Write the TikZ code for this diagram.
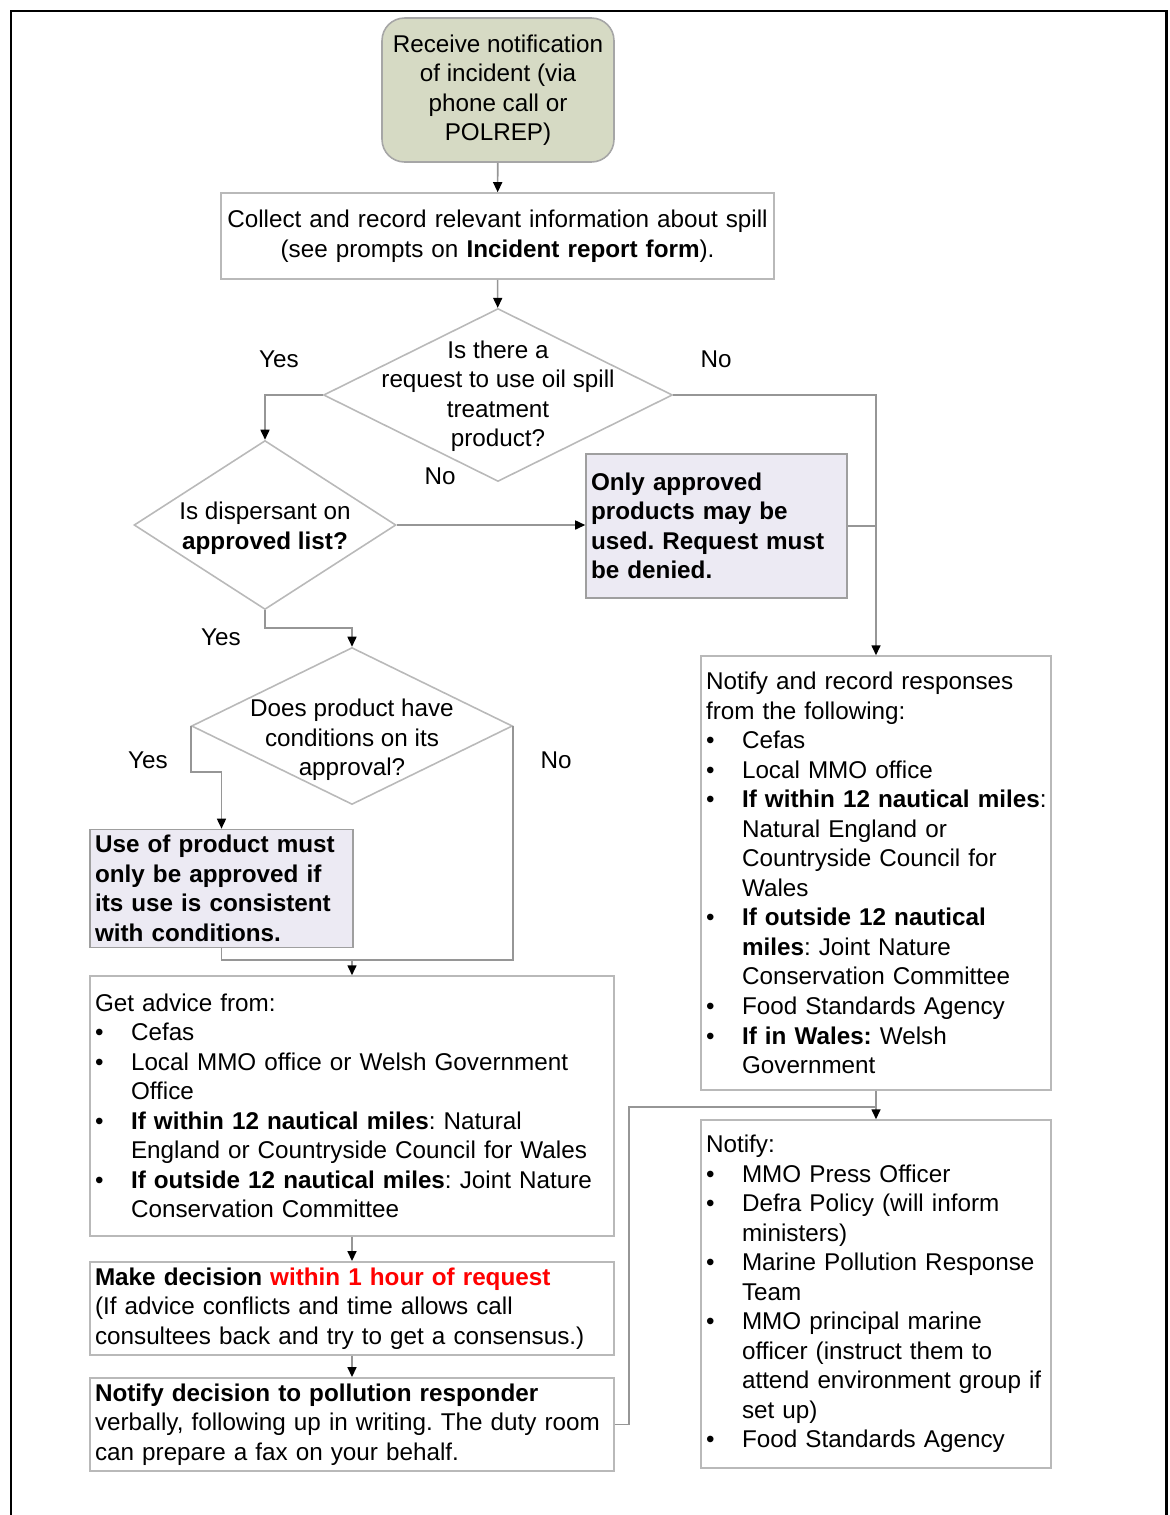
\documentclass[tikz,border=0pt]{standalone}
\usepackage{fontspec}
\setmainfont{Liberation Sans}
\usetikzlibrary{shapes.geometric,arrows.meta}

\definecolor{startfill}{RGB}{214,218,196}
\definecolor{notefill}{RGB}{236,234,243}
\definecolor{boxline}{RGB}{185,185,185}
\definecolor{flowline}{RGB}{150,150,150}

\newcommand{\bulletmark}{\makebox[0.72cm][l]{\textbullet}}
\newcommand{\bulletgap}{\hspace*{0.72cm}}
\frenchspacing

\begin{document}
\begin{tikzpicture}[
    x=0.02cm, y=-0.02cm,
    every node/.style={font=\fontsize{13.8}{16.8}\selectfont},
    startbox/.style={rectangle, rounded corners=0.45cm, draw=gray!70, line width=0.9pt, fill=startfill, minimum width=4.64cm, minimum height=2.88cm, align=center},
    infobox/.style={rectangle, draw=boxline, line width=0.9pt, inner xsep=0.1cm, align=left},
    notebox/.style={infobox, draw=gray!75, fill=notefill, font=\fontsize{13.8}{16.8}\selectfont\bfseries},
    decision/.style={diamond, draw=boxline, line width=0.9pt, inner sep=0pt},
    flow/.style={->, draw=flowline, line width=0.9pt, >={Triangle[length=0.2cm, width=0.18cm, color=black]}},
    link/.style={draw=flowline, line width=0.9pt}
]
    \useasboundingbox (0,0) rectangle (1170,1515);
    \draw[line width=1.7pt] (11,1515) -- (11,11) -- (1166,11) -- (1166,1515);

    % Left column
    \node[startbox] (notice) at (498,90) {Receive notification\\of incident (via\\phone call or\\POLREP)};
    \node[infobox, text width=10.86cm, minimum height=1.72cm, align=center] (collect) at (497.5,236)
        {\mbox{Collect and record relevant information about spill}\\(see prompts on \textbf{Incident report form}).};

    \node[decision, minimum width=6.98cm, minimum height=3.46cm] (request) at (498,395) {};
    \node[align=center] (requesttext) at (498,396) {Is there a\\request to use oil spill\\treatment\\product?};

    \node[decision, minimum width=5.24cm, minimum height=3.38cm] (dispersant) at (265,525) {};
    \node[align=center] (dispersanttext) at (265,528) {Is dispersant on\\\textbf{approved list?}};

    \node[notebox, text width=5.02cm, minimum height=2.88cm] (denied) at (716.5,526)
        {Only approved\\products may be\\used. Request must\\be denied.};

    \node[decision, minimum width=6.42cm, minimum height=3.14cm] (conditions) at (352,726) {};
    \node[align=center] (conditionstext) at (352,740) {Does product have\\conditions on its\\approval?};

    \node[notebox, text width=5.06cm, minimum height=2.3cm] (consistent) at (221.5,888.5)
        {Use of product must\\only be approved if\\its use is consistent\\with conditions.};

    \node[infobox, text width=10.28cm, minimum height=5.2cm] (advice) at (352,1106)
        {Get advice from:\\
        \bulletmark Cefas\\
        \bulletmark Local MMO office or Welsh Government\\
        \bulletgap Office\\
        \bulletmark \textbf{If within 12 nautical miles}: Natural\\
        \bulletgap \mbox{England or Countryside Council for Wales}\\
        \bulletmark \mbox{\textbf{If outside 12 nautical miles}: Joint Nature}\\
        \bulletgap Conservation Committee};

    \node[infobox, text width=10.28cm, minimum height=1.74cm] (decide) at (352,1308.5)
        {\textbf{Make decision \textcolor{red}{within 1 hour of request}}\\
        (If advice conflicts and time allows call\\
        \mbox{consultees back and try to get a consensus.)}};

    \node[infobox, text width=10.28cm, minimum height=1.74cm] (inform) at (352,1424.5)
        {\textbf{Notify decision to pollution responder}\\
        \mbox{verbally, following up in writing. The duty room}\\
        can prepare a fax on your behalf.};

    % Right column
    \node[infobox, text width=6.8cm, minimum height=8.68cm] (responses) at (876,873)
        {Notify and record responses\\from the following:\\
        \bulletmark Cefas\\
        \bulletmark Local MMO office\\
        \bulletmark \mbox{\textbf{If within 12 nautical miles}:}\\
        \bulletgap Natural England or\\
        \bulletgap Countryside Council for\\
        \bulletgap Wales\\
        \bulletmark \textbf{If outside 12 nautical}\\
        \bulletgap \textbf{miles}: Joint Nature\\
        \bulletgap \mbox{Conservation Committee}\\
        \bulletmark Food Standards Agency\\
        \bulletmark \textbf{If in Wales:} Welsh\\
        \bulletgap Government};

    \node[infobox, text width=6.8cm, minimum height=6.96cm] (notify) at (876,1294)
        {Notify:\\
        \bulletmark MMO Press Officer\\
        \bulletmark Defra Policy (will inform\\
        \bulletgap ministers)\\
        \bulletmark \mbox{Marine Pollution Response}\\
        \bulletgap Team\\
        \bulletmark MMO principal marine\\
        \bulletgap officer (instruct them to\\
        \bulletgap \mbox{attend environment group if}\\
        \bulletgap set up)\\
        \bulletmark Food Standards Agency};

    % Answers
    \node (yesrequest) at (279,359) {Yes};
    \node (norequest) at (716,359) {No};
    \node (nolist) at (440,476) {No};
    \node (yeslist) at (221,637) {Yes};
    \node (yesconditions) at (148,760) {Yes};
    \node (noconditions) at (556,760) {No};

    % Connectors
    \coordinate (advicein) at (352,960);
    \coordinate (notifyin) at (876,1107);
    \draw[flow] (notice) -- (collect);
    \draw[flow] (collect) -- (request);
    \draw[flow] (request.west) -| (dispersant.north);
    \draw[flow] (dispersant.east) -- (dispersant.east -| denied.west);
    \draw[flow] (request.east) -| (responses.north);
    \draw[link] (denied.east) -- (denied.east -| responses.north);
    \draw[flow] (dispersant.south) -- ++(0,18) -| (conditions.north);
    \draw[flow] (conditions.west) -- ++(0,46) -| (consistent.north);
    \draw[link] (conditions.east) |- (advicein);
    \draw[link] (consistent.south) |- (advicein);
    \draw[flow] (advicein) -- (advice.north);
    \draw[flow] (advice) -- (decide);
    \draw[flow] (decide) -- (inform);
    \draw[flow] (responses) -- (notify);
    \draw[link] (inform.east) -- ++(14,0) |- (notifyin);

\end{tikzpicture}
\end{document}
